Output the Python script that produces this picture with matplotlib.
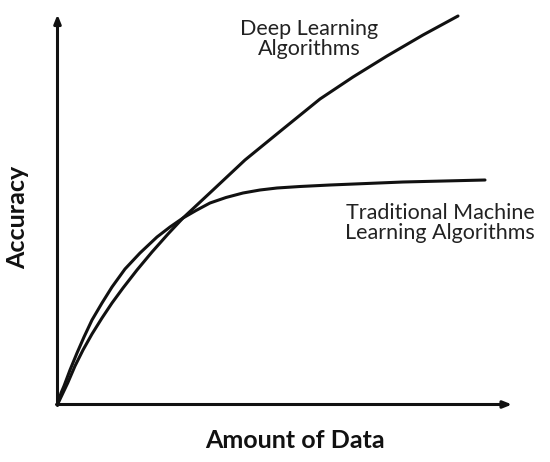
import matplotlib.pyplot as plt

# curves (x = amount of data, y = accuracy, arbitrary units)
deep_x = [0, 4.5, 10.2, 17.5, 25.5, 34.5, 44.5, 54.5, 65.5, 79.5, 94.5, 110.5,
          125.5, 155.5, 187.5, 225.5, 262.5, 295.5, 329.5, 365.5, 400.5]
deep_y = [0, 9.5, 21.5, 38.5, 54.5, 70.5, 86.5, 101.5, 116.5, 134.5, 152.5, 170.5,
          186.5, 214.5, 244.5, 275.5, 305.5, 327.5, 348.5, 369.5, 388.5]
trad_x = [0, 3.5, 6.5, 12.5, 19.5, 26.5, 34.5, 44.5, 54.5, 67.5, 82.5, 99.5,
          112.5, 125.5, 138.5, 152.5, 168.5, 185.5, 202.5, 219.5, 242.5, 272.5,
          345.5, 427.5]
trad_y = [0, 11.5, 18.5, 34.5, 51.5, 67.5, 84.5, 101.5, 117.5, 135.5, 151.5, 167.5,
          177.5, 186.5, 194, 201.5, 207, 211.5, 214.5, 216.5, 218, 219.5,
          222.5, 224.5]

x_end = 454.5
y_end = 390

plt.rcParams['font.family'] = ['Lato', 'DejaVu Sans']

fig = plt.figure(figsize=(5.5, 4.62), dpi=100)
ax = fig.add_axes([57.5 / 550, 1 - 404.5 / 462, 460 / 550, 392 / 462])
ax.set_xlim(0, 460)
ax.set_ylim(0, 392)
ax.axis('off')

ax.plot(deep_x, deep_y, color='#111111', lw=2.2, solid_capstyle='round',
        solid_joinstyle='round', clip_on=False)
ax.plot(trad_x, trad_y, color='#111111', lw=2.2, solid_capstyle='round',
        solid_joinstyle='round', clip_on=False)

arrow = dict(arrowstyle='-|>,head_length=0.5,head_width=0.2', color='#111111',
             lw=2.2, shrinkA=0, shrinkB=0)
ax.annotate('', xy=(x_end, 0), xytext=(-1, 0), arrowprops=arrow, annotation_clip=False)
ax.annotate('', xy=(0, y_end), xytext=(0, -1), arrowprops=arrow, annotation_clip=False)

fig.text(309 / 550, 1 - 39 / 462, 'Deep Learning\nAlgorithms', ha='center', va='center',
         fontsize=15.5, color='#222222', linespacing=1.0)
fig.text(440 / 550, 1 - 223 / 462, 'Traditional Machine\nLearning Algorithms', ha='center',
         va='center', fontsize=15.5, color='#222222', linespacing=1.0)
fig.text(18 / 550, 1 - 217 / 462, 'Accuracy', rotation=90, ha='center', va='center',
         fontsize=18, fontweight='bold', color='#111111')
fig.text(295 / 550, 1 - 440 / 462, 'Amount of Data', ha='center', va='center',
         fontsize=18, fontweight='bold', color='#111111')

fig.savefig('out.png', dpi=100)
